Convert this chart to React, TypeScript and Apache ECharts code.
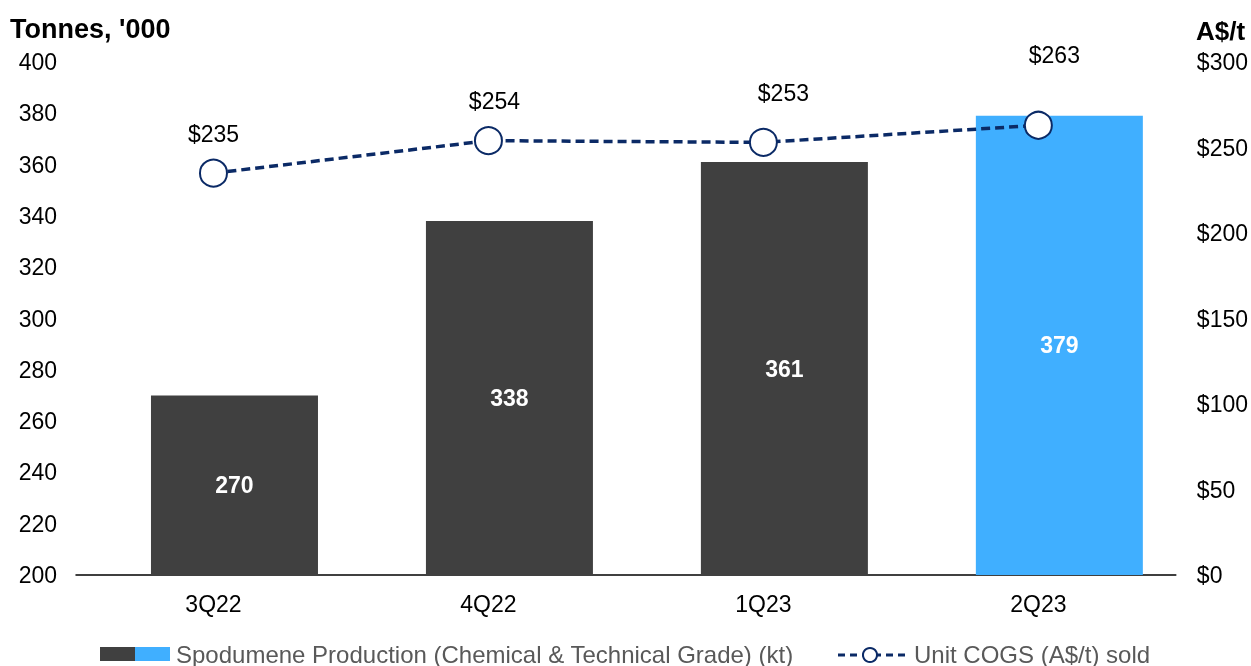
import React, { useEffect, useRef } from "react";
import * as echarts from "echarts";

const categories = ["3Q22", "4Q22", "1Q23", "2Q23"];
const production = [270, 338, 361, 379];
const unitCogs = [235, 254, 253, 263];
const leftTicks = [200, 400, 20];
const rightTicks = [0, 300, 50];

const DARK = "#404040";
const BLUE = "#40AFFF";
const NAVY = "#0B2A66";
const FONT = "'Liberation Sans', Arial, sans-serif";

const labelOffsets: [number, number][] = [
  [0, -8],
  [6, -9],
  [20, -18],
  [16, -39],
];

export default function App() {
  const ref = useRef<HTMLDivElement>(null);
  useEffect(() => {
    if (!ref.current) return;
    const chart = echarts.init(ref.current, undefined, { renderer: "svg" });
    chart.setOption({
      animation: false,
      textStyle: { fontFamily: FONT },
      grid: { left: 76, right: 75, top: 62, bottom: 91, containLabel: false },
      xAxis: {
        type: "category",
        data: categories,
        axisTick: { show: false },
        axisLine: { lineStyle: { color: "#000", width: 1.5 } },
        axisLabel: { color: "#000", fontSize: 23, margin: 17, fontFamily: FONT },
      },
      yAxis: [
        {
          type: "value",
          min: leftTicks[0],
          max: leftTicks[1],
          interval: leftTicks[2],
          splitLine: { show: false },
          axisLine: { show: false },
          axisTick: { show: false },
          axisLabel: { color: "#000", fontSize: 23, margin: 19, fontFamily: FONT },
        },
        {
          type: "value",
          min: rightTicks[0],
          max: rightTicks[1],
          interval: rightTicks[2],
          splitLine: { show: false },
          axisLine: { show: false },
          axisTick: { show: false },
          axisLabel: {
            color: "#000",
            fontSize: 23,
            margin: 21,
            fontFamily: FONT,
            formatter: (v: number) => "$" + v,
          },
        },
      ],
      series: [
        {
          name: "spacer",
          type: "bar",
          yAxisIndex: 0,
          barWidth: 42,
          barGap: 0,
          data: categories.map(() => null),
          silent: true,
        },
        {
          type: "bar",
          yAxisIndex: 0,
          barWidth: 167,
          barGap: 0,
          data: production.map((v, i) => ({
            value: v,
            itemStyle: { color: i === production.length - 1 ? BLUE : DARK },
          })),
          label: {
            show: true,
            position: "inside",
            color: "#fff",
            fontWeight: "bold",
            fontSize: 23,
            fontFamily: FONT,
          },
          z: 1,
        },
        {
          type: "line",
          yAxisIndex: 1,
          data: unitCogs.map((v, i) => ({
            value: v,
            label: { offset: labelOffsets[i] },
          })),
          symbol: "circle",
          symbolSize: 27,
          itemStyle: { color: "#fff", borderColor: NAVY, borderWidth: 2 },
          lineStyle: { color: NAVY, width: 3.5, type: [9, 5] },
          label: {
            show: true,
            position: "top",
            distance: 5,
            color: "#000",
            fontSize: 23,
            fontFamily: FONT,
            formatter: (p: any) => "$" + p.value,
          },
          z: 3,
        },
      ],
      graphic: [
        {
          type: "text",
          left: 10,
          top: 15,
          style: { text: "Tonnes, '000", font: `bold 27px ${FONT}`, fill: "#000" },
        },
        {
          type: "text",
          left: 1196,
          top: 18,
          style: { text: "A$/t", font: `bold 26px ${FONT}`, fill: "#000" },
        },
        { type: "rect", shape: { x: 100, y: 647, width: 35, height: 14 }, style: { fill: DARK } },
        { type: "rect", shape: { x: 135, y: 647, width: 35, height: 14 }, style: { fill: BLUE } },
        {
          type: "text",
          x: 176,
          y: 654,
          style: {
            text: "Spodumene Production (Chemical & Technical Grade) (kt)",
            font: `24px ${FONT}`,
            fill: "#595959",
            verticalAlign: "middle",
          },
        },
        {
          type: "line",
          shape: { x1: 838, y1: 655, x2: 905, y2: 655 },
          style: { stroke: NAVY, lineWidth: 3, lineDash: [7, 5] },
        },
        {
          type: "circle",
          shape: { cx: 870, cy: 655, r: 7 },
          style: { fill: "#fff", stroke: NAVY, lineWidth: 2 },
        },
        {
          type: "text",
          x: 914,
          y: 654,
          style: {
            text: "Unit COGS (A$/t) sold",
            font: `24px ${FONT}`,
            fill: "#595959",
            verticalAlign: "middle",
          },
        },
      ],
    });
    return () => chart.dispose();
  }, []);
  return (
    <div
      ref={ref}
      style={{ position: "fixed", left: 0, top: 0, width: 1251, height: 666 }}
    />
  );
}
